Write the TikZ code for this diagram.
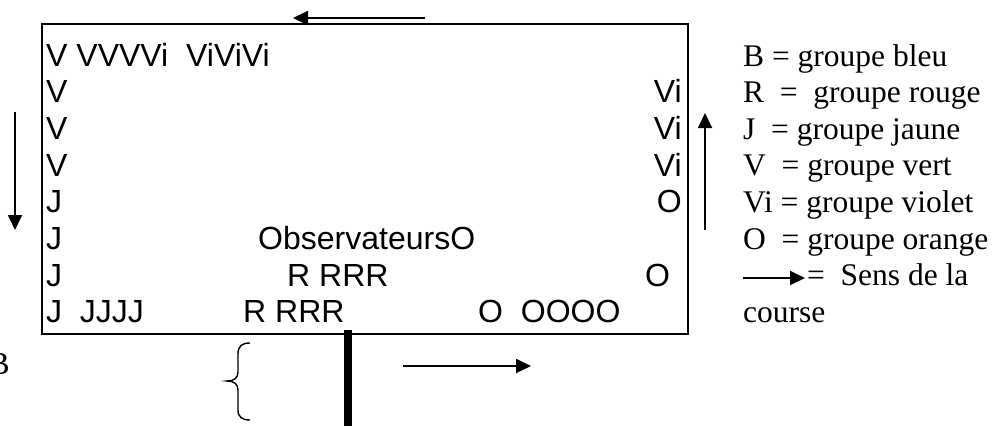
\documentclass[tikz,border=0pt]{standalone}
\usepackage{fontspec}
\setmainfont{Liberation Serif}
\newfontfamily\arialfont{Liberation Sans}
\usetikzlibrary{arrows.meta}
\begin{document}
\begin{tikzpicture}[x=1pt,y=-1pt,
  lbl/.style={font=\arialfont\fontsize{32}{37}\selectfont, inner sep=0pt, anchor=base west},
  lblr/.style={lbl, anchor=base east},
  leg/.style={font=\fontsize{31.5}{37}\selectfont, inner sep=0pt, anchor=base west},
  runarrow/.style={line width=1.8pt, -{Triangle[length=15pt,width=14pt]}},
  fieldbox/.style={draw, line width=1.8pt, inner sep=0pt, anchor=north west}
]
\useasboundingbox (0,0) rectangle (995,426);
\clip (0,0) rectangle (995,426);

% field
\node[fieldbox, minimum width=646pt, minimum height=310pt] (field) at (41,23) {};

% left column
\node[lbl] (r1) at (46,66) {V VVVVi\ \ ViViVi};
\node[lbl] (r2) at (46,102.7) {V};
\node[lbl] (r3) at (46,139.4) {V};
\node[lbl] (r4) at (46,176.1) {V};
\node[lbl] (r5) at (46,212.8) {J};
\node[lbl] (r6) at (46,249.5) {J};
\node[lbl] (r7) at (46,286.2) {J};
\node[lbl] (r8) at (46,322.9) {J\ \ JJJJ};

% right column
\node[lblr] (q2) at (682,102.7) {Vi};
\node[lblr] (q3) at (682,139.4) {Vi};
\node[lblr] (q4) at (682,176.1) {Vi};
\node[lblr] (q5) at (682,212.8) {O};

% inner texts
\node[lbl] (obs) at (258,249.5) {ObservateursO};
\node[lbl] (rr1) at (287,286.2) {R RRR};
\node[lbl] (o7) at (645,286.2) {O};
\node[lbl] (rr2) at (243,322.9) {R RRR};
\node[lbl] (oo) at (478,322.9) {O\ \ OOOO};

% cut B at left
\node[font=\fontsize{32}{37}\selectfont, inner sep=0pt, anchor=base east] (bcut) at (10,374) {B};

% direction arrows
\coordinate (ta1) at (425,18); \coordinate (ta2) at (293,18);
\draw[runarrow] (ta1) -- (ta2);
\coordinate (la1) at (15,112); \coordinate (la2) at (15,230);
\draw[runarrow] (la1) -- (la2);
\coordinate (ra1) at (705,230); \coordinate (ra2) at (705,113);
\draw[runarrow] (ra1) -- (ra2);
\coordinate (ba1) at (403,366); \coordinate (ba2) at (531,366);
\draw[runarrow] (ba1) -- (ba2);

% thick bar
\coordinate (bar1) at (348,330); \coordinate (bar2) at (348,426);
\draw[line width=8pt] (bar1) -- (bar2);

% brace
\draw[line width=1.4pt] (250,343) .. controls (242,343) and (238,346) .. (238,354) -- (238,372)
  .. controls (238,378) and (234,381) .. (227,381)
  .. controls (234,381) and (238,384) .. (238,390) -- (238,410)
  .. controls (238,417) and (242,420) .. (250,420);

% legend
\node[leg] (l1) at (743,66) {B = groupe bleu};
\node[leg] (l2) at (743,102.6) {R\ \ =\ \ groupe rouge};
\node[leg] (l3) at (743,139.2) {J\ \ = groupe jaune};
\node[leg] (l4) at (743,175.8) {V\ \ = groupe vert};
\node[leg] (l5) at (743,212.4) {Vi = groupe violet};
\node[leg] (l6) at (743,249) {O\ \ = groupe orange};
\coordinate (lg1) at (743,278); \coordinate (lg2) at (805,278);
\draw[runarrow] (lg1) -- (lg2);
\node[leg] (l7) at (807,285.6) {=\ \ Sens de la};
\node[leg] (l8) at (743,322.2) {course};
\end{tikzpicture}
\end{document}
